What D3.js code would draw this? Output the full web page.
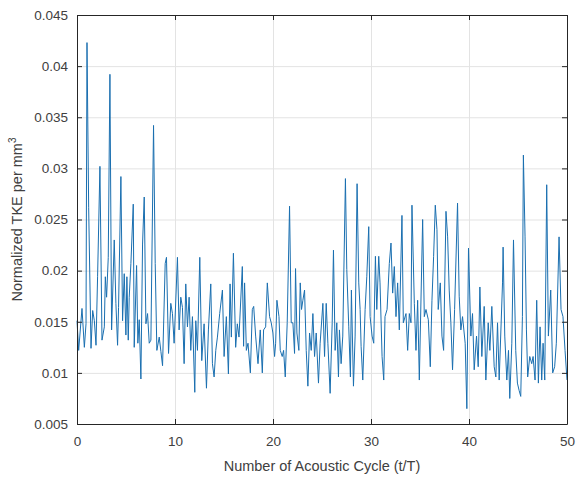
<!DOCTYPE html>
<html>
<head>
<meta charset="utf-8">
<script src="https://cdn.jsdelivr.net/npm/d3@7"></script>
<style>
  body { margin: 0; background: #fff; }
  text { font-family: "Liberation Sans", Arial, sans-serif; }
</style>
</head>
<body>
<div id="view"></div>
<script>
var width = 577, height = 479;
var margin = { top: 15, right: 10, bottom: 55, left: 77 };

// 横軸: 音響サイクル数 (t/T)
var cycles = [
  0, 0.17, 0.51, 0.75, 0.92, 1.02, 1.19, 1.43, 1.6, 1.77, 1.94, 2.1, 2.34, 2.55, 2.79, 2.89, 3.02, 3.19, 3.36, 3.53,
  3.8, 3.97, 4.14, 4.24, 4.48, 4.65, 4.82, 4.99, 5.09, 5.23, 5.33, 5.5, 5.74, 5.84, 6.08, 6.21, 6.35, 6.52, 6.69, 6.86,
  7.03, 7.2, 7.37, 7.54, 7.81, 7.98, 8.15, 8.39, 8.56, 8.73, 9.0, 9.13, 9.34, 9.57, 9.74, 9.91, 10.25, 10.42, 10.59, 10.76,
  10.93, 11.1, 11.27, 11.44, 11.61, 11.78, 12.02, 12.12, 12.29, 12.53, 12.73, 12.97, 13.21, 13.41, 13.65, 13.82, 13.99, 14.16, 14.33, 14.56,
  14.84, 15.01, 15.24, 15.45, 15.62, 15.75, 15.96, 16.19, 16.36, 16.53, 16.87,
  17.0, 17.1, 17.28, 17.45, 17.69, 17.89, 18.03, 18.23, 18.47, 18.7, 18.91, 19.04, 19.25, 19.42, 19.65, 19.82, 19.99, 20.16, 20.27, 20.4,
  20.61, 20.74, 20.94, 21.08, 21.25, 21.45, 21.69, 21.86, 22.03, 22.2, 22.3, 22.44, 22.64, 22.78, 22.91, 23.05, 23.22, 23.39, 23.56, 23.73,
  23.9, 24.07, 24.24, 24.41, 24.64, 24.81, 25.09, 25.26, 25.43, 25.6, 25.83, 26.04, 26.17, 26.34, 26.51, 26.68, 26.78, 26.95, 27.12, 27.39,
  27.53, 27.73, 27.9, 28.0, 28.21, 28.38, 28.58, 28.75, 28.89, 28.99, 29.16, 29.4, 29.57, 29.77, 29.91, 30.11, 30.28, 30.45, 30.59, 30.79,
  30.92, 31.13, 31.3, 31.43, 31.64, 31.87, 32.04, 32.21, 32.38, 32.55, 32.72, 32.89, 33.16, 33.3, 33.57, 33.74, 33.91, 34.08, 34.18, 34.42,
  34.59, 34.76, 34.93, 35.27, 35.44, 35.61, 35.85, 36.05, 36.22, 36.39, 36.56, 36.73, 36.86, 37.07, 37.24, 37.41, 37.65, 37.82, 37.98, 38.15,
  38.32, 38.53, 38.83, 39.0, 39.17, 39.34, 39.61, 39.78, 39.95, 40.19, 40.36, 40.53, 40.77, 40.94, 41.11, 41.31, 41.55, 41.72, 41.96, 42.13,
  42.33, 42.57, 42.74, 42.91, 43.08, 43.42, 43.48, 43.65, 43.86, 44.03, 44.16, 44.37, 44.54, 44.77, 44.94, 45.11, 45.28, 45.45, 45.55, 45.72,
  45.86, 45.99, 46.2, 46.4, 46.54, 46.74, 46.91, 47.08, 47.25, 47.42, 47.56, 47.73, 47.93, 48.1, 48.34, 48.54, 48.74, 48.91, 49.19, 49.39,
  49.59, 49.8, 50.0
];

// 縦軸: 正規化TKE (×1e-3 単位で記録)
var tkeMilli = [
  15.1, 12.2, 16.3, 12.5, 14.8, 42.3, 26.2, 12.4, 16.1, 15.1, 12.7, 19.4, 30.2, 13.2, 14.5, 19.4, 17.4, 21.3, 39.2, 14.2,
  23.0, 16.8, 12.7, 16.4, 29.2, 15.1, 19.7, 13.7, 19.4, 13.2, 17.4, 20.7, 26.5, 12.5, 20.5, 12.9, 15.2, 9.4, 22.6, 27.2,
  14.8, 15.8, 12.9, 13.2, 34.2, 20.7, 12.2, 13.5, 12.1, 10.7, 20.7, 21.3, 11.9, 16.8, 15.8, 12.9, 21.3, 14.2, 17.4, 16.4,
  10.9, 18.7, 14.5, 17.4, 12.2, 15.5, 8.1, 15.1, 12.2, 21.3, 11.2, 14.8, 8.5, 14.2, 18.7, 10.9, 9.6, 12.2, 13.5, 15.8,
  18.1, 11.6, 15.5, 9.9, 18.7, 13.5, 21.7, 12.5, 14.8, 13.5, 20.4,
  12.6, 18.8, 12.2, 12.9, 10.0, 16.2, 16.5, 13.6, 10.9, 14.2, 10.0, 14.2, 14.5, 18.8, 15.5, 14.9, 13.9, 11.6, 12.9, 17.1,
  15.5, 12.2, 11.6, 12.2, 9.6, 14.9, 26.3, 14.9, 14.9, 11.9, 20.2, 13.9, 12.2, 18.8, 16.2, 17.1, 18.1, 12.2, 8.7, 13.9,
  12.2, 15.8, 11.6, 13.9, 9.0, 12.9, 16.8, 11.6, 16.8, 12.9, 8.0, 14.9, 22.0, 12.2, 14.9, 9.6, 14.2, 10.9, 13.6, 29.0,
  20.1, 14.5, 9.6, 18.1, 8.7, 13.6, 28.5, 18.8, 16.2, 12.6, 9.3, 16.2, 19.4, 24.3, 15.5, 13.6, 12.9, 21.4, 16.2, 21.4,
  18.8, 11.6, 9.3, 15.5, 16.2, 20.7, 22.7, 17.8, 20.4, 15.5, 18.8, 14.2, 25.4, 14.9, 15.8, 12.2, 15.8, 14.9, 26.4, 16.8,
  12.2, 17.1, 9.3, 25.0, 15.5, 16.2, 15.2, 10.6, 17.1, 21.4, 26.4, 24.0, 16.2, 18.8, 13.6, 12.2, 25.8, 23.3, 18.1, 14.9,
  10.3, 16.2, 26.6, 17.5, 14.2, 15.5, 12.9, 6.5, 22.2, 13.6, 15.8, 10.3, 13.6, 10.6, 18.4, 11.6, 16.5, 9.3, 14.9, 12.2,
  16.5, 10.6, 9.6, 14.9, 9.3, 18.8, 22.3, 13.6, 9.3, 12.2, 7.5, 12.9, 23.0, 12.2, 9.0, 8.3, 7.7, 15.5, 31.3, 23.3,
  14.2, 9.6, 11.6, 10.9, 11.6, 9.3, 17.1, 9.0, 14.5, 9.3, 12.9, 9.3, 28.4, 13.6, 18.1, 10.0, 10.6, 12.9, 23.3, 16.2,
  15.5, 12.2, 9.3
];
var tke = tkeMilli.map(function(v) { return v / 1000; });

var xTicks = [0, 10, 20, 30, 40, 50];
var yTicks = [0.005, 0.01, 0.015, 0.02, 0.025, 0.03, 0.035, 0.04, 0.045];

var data = d3.zip(cycles, tke);

var svg = d3.select("#view").append("svg")
  .attr("width", width)
  .attr("height", height);

var pw = width - margin.left - margin.right;
var ph = height - margin.top - margin.bottom;

var x = d3.scaleLinear().domain([0, 50]).range([0, pw]);
var y = d3.scaleLinear().domain([0.005, 0.045]).range([ph, 0]);

var g = svg.append("g").attr("transform", "translate(" + margin.left + "," + margin.top + ")");

// グリッド線
g.append("g")
  .attr("transform", "translate(0," + ph + ")")
  .call(d3.axisBottom(x).tickValues(xTicks).tickSize(-ph).tickFormat(""))
  .call(function(s) { s.select(".domain").remove(); s.selectAll("line").attr("stroke", "#e3e3e3"); });
g.append("g")
  .call(d3.axisLeft(y).tickValues(yTicks).tickSize(-pw).tickFormat(""))
  .call(function(s) { s.select(".domain").remove(); s.selectAll("line").attr("stroke", "#e3e3e3"); });

// 折れ線
var line = d3.line()
  .x(function(d) { return x(d[0]); })
  .y(function(d) { return y(d[1]); });

g.append("path")
  .datum(data)
  .attr("fill", "none")
  .attr("stroke", "#1a6fb0")
  .attr("stroke-width", 1)
  .attr("stroke-linejoin", "round")
  .attr("d", line);

// 軸 (MATLAB風: 内向きの目盛り, 四方を囲む)
function styleAxis(s) {
  s.select(".domain").attr("stroke", "#262626");
  s.selectAll(".tick line").attr("stroke", "#262626");
  s.selectAll("text").attr("fill", "#404040").style("font-size", "13.5px");
}

g.append("g")
  .attr("transform", "translate(0," + ph + ")")
  .call(d3.axisBottom(x).tickValues(xTicks).tickSizeInner(-5).tickSizeOuter(0).tickPadding(12).tickFormat(d3.format("d")))
  .call(styleAxis);
g.append("g")
  .call(d3.axisTop(x).tickValues(xTicks).tickSizeInner(-5).tickSizeOuter(0).tickFormat(""))
  .call(styleAxis);
g.append("g")
  .call(d3.axisLeft(y).tickValues(yTicks).tickSizeInner(-5).tickSizeOuter(0).tickPadding(9).tickFormat(function(d) { return +d.toFixed(3) + ""; }))
  .call(styleAxis);
g.append("g")
  .attr("transform", "translate(" + pw + ",0)")
  .call(d3.axisRight(y).tickValues(yTicks).tickSizeInner(-5).tickSizeOuter(0).tickFormat(""))
  .call(styleAxis);

// 軸ラベル
svg.append("text")
  .attr("x", margin.left + pw / 2)
  .attr("y", 471)
  .attr("text-anchor", "middle")
  .attr("fill", "#404040")
  .style("font-size", "14.5px")
  .text("Number of Acoustic Cycle (t/T)");

var yl = svg.append("text")
  .attr("transform", "translate(22," + (margin.top + ph / 2) + ") rotate(-90)")
  .attr("text-anchor", "middle")
  .attr("fill", "#404040")
  .style("font-size", "14.5px");
yl.append("tspan").text("Normalized TKE per mm");
yl.append("tspan").attr("dy", -6).style("font-size", "10px").text("3");
</script>
</body>
</html>
